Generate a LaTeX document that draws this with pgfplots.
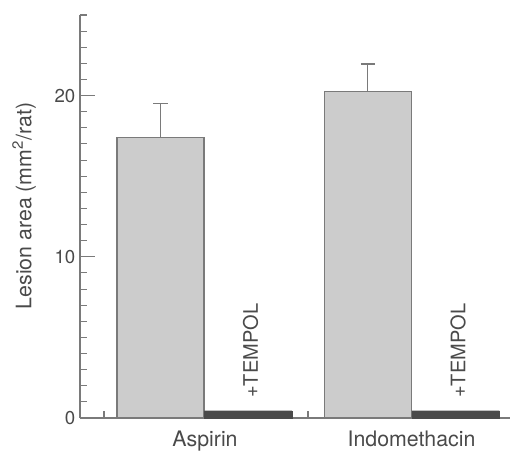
\documentclass[border=0pt]{standalone}
\usepackage{fontspec}
\setmainfont{TeX Gyre Heros}
\usepackage{pgfplots}
\pgfplotsset{compat=1.18}
\definecolor{axgray}{HTML}{7A7A7A}
\definecolor{txtgray}{HTML}{4A4A4A}
\definecolor{barlight}{HTML}{CCCCCC}
\definecolor{bardark}{HTML}{4A4A4A}
\begin{document}
\begin{tikzpicture}
\begin{axis}[
  scale only axis, width=322.5pt, height=302.25pt,
  at={(0,0)}, anchor=south west,
  xmin=80, xmax=510, ymin=0, ymax=25,
  axis x line*=bottom, axis y line*=left,
  axis line style={draw=axgray, line width=0.9pt, -},
  tick align=inside,
  major tick length=11.25pt, minor tick length=5.25pt,
  tick style={axgray, line width=0.8pt},
  ytick={0,10,20}, minor ytick={0,1,...,25},
  xtick={104,308}, xticklabels={},
  xtick style={/pgfplots/major tick length=5.25pt},
  extra x ticks={205,411.5},
  extra x tick labels={Aspirin,Indomethacin},
  extra x tick style={/pgfplots/major tick length=0pt, draw=none,
    tick label style={font=\fontsize{16}{19}\selectfont, text=txtgray, yshift=-6pt}},
  yticklabel style={font=\fontsize{14}{16}\selectfont, text=txtgray},
  /pgf/number format/assume math mode=true,
  ylabel={Lesion area (mm\textsuperscript{2}/rat)},
  ylabel style={font=\fontsize{16}{19}\selectfont, text=txtgray,
    at={(axis description cs:-0.13,0.526)}, anchor=center},
  clip=false,
]
\addplot[ybar, bar width=87, bar shift=0pt, draw=axgray, fill=barlight, line width=0.8pt,
  error bars/.cd, y dir=plus, y explicit, error mark=-,
  error bar style={draw=axgray, line width=0.8pt},
  error mark options={draw=axgray, line width=0.8pt, mark size=5.25pt, rotate=90}]
  coordinates {(160.5,17.4) +- (0,2.13) (367.8,20.28) +- (0,1.68)};
\addplot[ybar, bar width=87.5, bar shift=0pt, draw=bardark, fill=bardark, line width=0.3pt]
  coordinates {(248,0.45) (455.5,0.45)};
\node[rotate=90, anchor=west, inner sep=0pt, text=txtgray, font=\fontsize{15}{18}\selectfont]
  at (axis cs:250.5,1.24) {+TEMPOL};
\node[rotate=90, anchor=west, inner sep=0pt, text=txtgray, font=\fontsize{15}{18}\selectfont]
  at (axis cs:458,1.24) {+TEMPOL};
\end{axis}
\pgfresetboundingbox
\path[use as bounding box] (-60pt,-25.5pt) rectangle (322.5pt,313.5pt);
\end{tikzpicture}
\end{document}
